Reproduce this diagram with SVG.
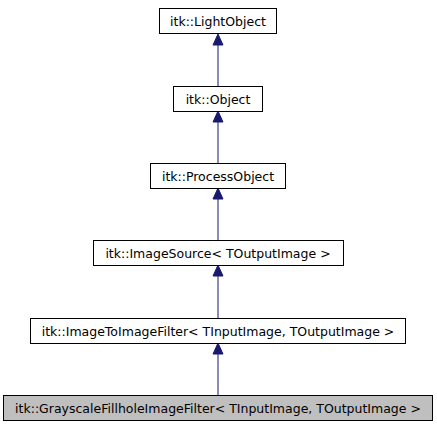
<svg xmlns="http://www.w3.org/2000/svg" width="437" height="427" viewBox="0 0 437 427">
<style>
.box rect{fill:#ffffff;stroke:#000000;stroke-width:1}
.box.cur rect{fill:#bfbfbf}
.box text{font-family:"DejaVu Sans",sans-serif;font-size:12.5px;fill:#000000;text-anchor:middle}
.edge line{stroke:#191970;stroke-width:1}
.edge polygon{fill:#191970;stroke:#191970;stroke-width:1}
</style>
<rect width="437" height="427" fill="#ffffff"/>
<g id="edges">
<g class="edge"><line x1="218" y1="86" x2="218" y2="45"/><polygon points="218,34 213,45 223,45"/></g>
<g class="edge"><line x1="218" y1="163" x2="218" y2="122"/><polygon points="218,111 213,122 223,122"/></g>
<g class="edge"><line x1="218" y1="240" x2="218" y2="199"/><polygon points="218,188 213,199 223,199"/></g>
<g class="edge"><line x1="218" y1="318" x2="218" y2="276"/><polygon points="218,265 213,276 223,276"/></g>
<g class="edge"><line x1="218" y1="395" x2="218" y2="354"/><polygon points="218,343 213,354 223,354"/></g>
</g>
<g id="lightobject" class="box"><rect x="159.5" y="8.5" width="117" height="25"/><text x="218" y="25.5">itk::LightObject</text></g>
<g id="object" class="box"><rect x="173.5" y="86.5" width="89" height="25"/><text x="218" y="103.5">itk::Object</text></g>
<g id="processobject" class="box"><rect x="150.5" y="163.5" width="135" height="25"/><text x="218" y="180.5">itk::ProcessObject</text></g>
<g id="imagesource" class="box"><rect x="93.5" y="240.5" width="250" height="25"/><text x="218" y="257.5">itk::ImageSource&lt; TOutputImage &gt;</text></g>
<g id="imagetoimagefilter" class="box"><rect x="30.5" y="318.5" width="375" height="25"/><text x="218" y="335.5">itk::ImageToImageFilter&lt; TInputImage, TOutputImage &gt;</text></g>
<g id="grayscalefillhole" class="box cur"><rect x="3.5" y="395.5" width="429" height="25"/><text x="218" y="412.5">itk::GrayscaleFillholeImageFilter&lt; TInputImage, TOutputImage &gt;</text></g>
</svg>
